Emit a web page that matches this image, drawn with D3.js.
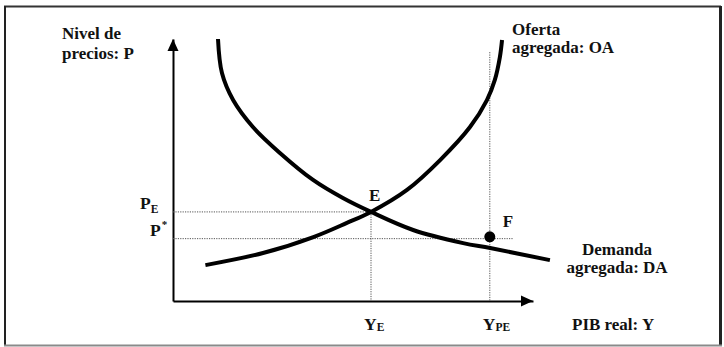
<!DOCTYPE html>
<html>
<head>
<meta charset="utf-8">
<script src="https://cdn.jsdelivr.net/npm/d3@7"></script>
<style>
  body { margin: 0; background: #fff; }
  text { font-family: "Liberation Serif", "Times New Roman", serif; font-weight: bold; fill: #111; }
</style>
</head>
<body>
<script>
// Curves: [output Y, price level P], both axes on a 0-100 scale
const supply = [[9, 13.7], [25, 18.3], [39, 24.4], [48.3, 29.8], [55, 34], [65, 42.4],
                [74.2, 53.8], [82.5, 66.4], [87.2, 76.7], [89.4, 84.4], [90.8, 93.1], [91.4, 99.6]];
const demand = [[12.5, 100], [13.6, 87], [16.7, 76.7], [22.2, 66.4], [29.7, 56.5], [38.9, 46.2],
                [47.2, 39.3], [55, 34], [66.7, 27.1], [80.6, 22.1], [88.1, 20.2], [104.7, 15.6]];

// Key values
const yE = 55, yPE = 88, pE = 34, pStar = 23.8;
const pointF = [88, 24.5];
const pStarEnd = 94.5, yPETop = 95;

// Axis labels (main letter + subscript / superscript)
const xTickLabels = [{v: yE, main: "Y", sub: "E"}, {v: yPE, main: "Y", sub: "PE"}];
const yTickLabels = [{v: pE, main: "P", sub: "E"}, {v: pStar, main: "P", sup: "*"}];

const W = 724, H = 347;
const svg = d3.select("body").append("svg")
    .attr("width", W)
    .attr("height", H);

// Frame around the figure
svg.append("line").attr("x1", 4).attr("y1", 6.5).attr("x2", 721).attr("y2", 6.5)
    .attr("stroke", "#333").attr("stroke-width", 2);
svg.append("line").attr("x1", 5).attr("y1", 6).attr("x2", 5).attr("y2", 345)
    .attr("stroke", "#222").attr("stroke-width", 2);
svg.append("line").attr("x1", 720.5).attr("y1", 6).attr("x2", 720.5).attr("y2", 346)
    .attr("stroke", "#222").attr("stroke-width", 3);
svg.append("line").attr("x1", 4).attr("y1", 345.5).attr("x2", 722).attr("y2", 345.5)
    .attr("stroke", "#8a8a8a").attr("stroke-width", 2);

// Scales
const x = d3.scaleLinear().domain([0, 100]).range([173, 533]);
const y = d3.scaleLinear().domain([0, 100]).range([301, 39]);

// Axes (no ticks, just the lines)
svg.append("g")
    .attr("transform", "translate(0," + y(0) + ")")
    .call(d3.axisBottom(x).tickValues([]).tickSizeOuter(0))
    .select(".domain").attr("stroke", "#000").attr("stroke-width", 2);
svg.append("g")
    .attr("transform", "translate(" + x(0) + ",0)")
    .call(d3.axisLeft(y).tickValues([]).tickSizeOuter(0))
    .select(".domain").attr("stroke", "#000").attr("stroke-width", 2);

// Arrow heads
svg.append("path")
    .attr("d", `M${x(0)},${y(100)} L${x(0) - 5.5},${y(100) + 12} L${x(0) + 5.5},${y(100) + 12} Z`)
    .attr("fill", "#000");
svg.append("path")
    .attr("d", `M${x(100)},${y(0)} L${x(100) - 12},${y(0) - 5.5} L${x(100) - 12},${y(0) + 5.5} Z`)
    .attr("fill", "#000");

// Dotted guide lines
const guides = [
  [[0, pE], [yE, pE]],
  [[0, pStar], [pStarEnd, pStar]],
  [[yE, pE], [yE, 0]],
  [[yPE, yPETop], [yPE, 0]]
];
svg.selectAll(".guide")
    .data(guides)
    .enter()
    .append("line")
      .attr("class", "guide")
      .attr("x1", d => x(d[0][0]))
      .attr("y1", d => y(d[0][1]))
      .attr("x2", d => x(d[1][0]))
      .attr("y2", d => y(d[1][1]))
      .attr("stroke", "#555")
      .attr("stroke-width", 1)
      .attr("stroke-dasharray", "1.2,1.2");

// Curves
const line = d3.line()
    .x(d => x(d[0]))
    .y(d => y(d[1]))
    .curve(d3.curveCatmullRom.alpha(0.5));

svg.selectAll(".curve")
    .data([supply, demand])
    .enter()
    .append("path")
      .attr("class", "curve")
      .attr("d", line)
      .attr("fill", "none")
      .attr("stroke", "#000")
      .attr("stroke-width", 4);

// Point F
svg.append("circle")
    .attr("cx", x(pointF[0]))
    .attr("cy", y(pointF[1]))
    .attr("r", 5.5)
    .attr("fill", "#000");

// Text labels
function addText(tx, ty, str, anchor) {
  return svg.append("text")
      .attr("x", tx)
      .attr("y", ty)
      .attr("font-size", 17)
      .attr("text-anchor", anchor || "start")
      .text(str);
}

addText(62, 39, "Nivel de");
addText(62, 59, "precios: P");
addText(512, 35, "Oferta");
addText(512, 53, "agregada: OA");
addText(617, 255, "Demanda", "middle");
addText(617, 273, "agregada: DA", "middle");
addText(572, 330, "PIB real: Y");
addText(x(yE) - 2, y(pE) - 11, "E");
addText(x(pointF[0]) + 13, y(pointF[1]) - 10, "F");

// Y-axis value labels
yTickLabels.forEach(function(d, i) {
  const t = svg.append("text")
      .attr("x", i === 0 ? 140 : 150)
      .attr("y", y(d.v) - 3)
      .attr("font-size", 17.5)
      .text(d.main);
  if (d.sub) t.append("tspan").attr("font-size", 11.5).attr("dy", 4).text(d.sub);
  if (d.sup) t.append("tspan").attr("font-size", 11).attr("dy", -8).attr("dx", 1).text(d.sup);
});

// X-axis value labels
xTickLabels.forEach(function(d) {
  const t = svg.append("text")
      .attr("x", x(d.v) - 7)
      .attr("y", 330)
      .attr("font-size", 17.5)
      .text(d.main);
  t.append("tspan").attr("font-size", 11.5).attr("dy", 1).text(d.sub);
});
</script>
</body>
</html>
